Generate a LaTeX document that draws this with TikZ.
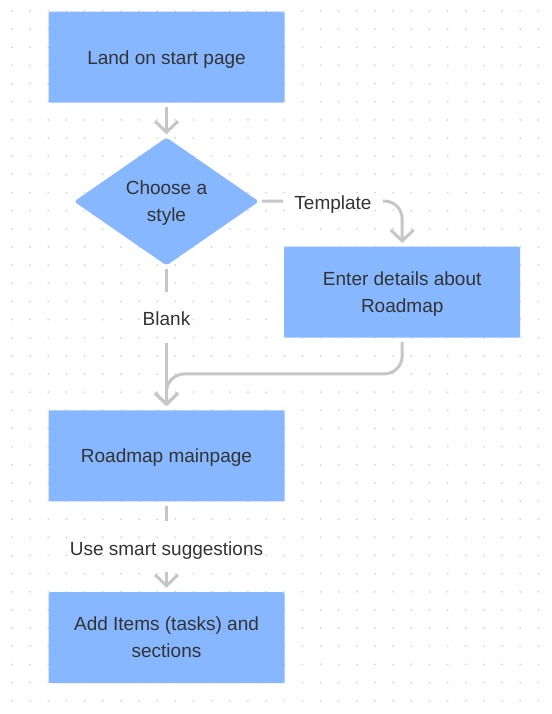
\documentclass[tikz,border=0pt]{standalone}
\usepackage{fontspec}
\setmainfont{Liberation Sans}
\usetikzlibrary{shapes.geometric, arrows.meta}

\definecolor{boxblue}{RGB}{134,183,255}
\definecolor{linegray}{RGB}{198,198,198}
\definecolor{textgray}{RGB}{51,51,51}
\definecolor{dotgray}{RGB}{212,212,212}

\begin{document}
\begin{tikzpicture}[x=1pt, y=-1pt,
    txt/.style={text=textgray, font=\fontsize{19}{27}\selectfont},
    stepbox/.style={txt, rectangle, fill=boxblue, rounded corners=1.5pt, minimum width=236pt, minimum height=91pt, align=center, text height=13.7pt, text depth=0pt},
    choice/.style={txt, diamond, fill=boxblue, rounded corners=3pt, minimum width=185pt, minimum height=128pt, inner sep=0pt, align=center},
    twolines/.style={text height=40.7pt, text depth=0pt},
    edgelabel/.style={txt, inner xsep=11pt, inner ysep=17pt, text height=17pt, text depth=0pt},
    link/.style={draw=linegray, line width=3pt},
    flowarrow/.style={link, -{Straight Barb[length=11pt, width=23pt]}}
]
    \useasboundingbox (0,0) rectangle (551,714);

    % Dotted background
    \foreach \i in {0,...,29}
        \foreach \j in {0,...,38}
            \fill[dotgray] (12+\i*18.15, 11+\j*18.15) circle (1pt);

    % Steps
    \node[stepbox] (start) at (166.5,57.2) {Land on start page};
    \node[choice, twolines] (style) at (166.5,201.5) {Choose a\\style};
    \node[stepbox, twolines] (details) at (402.2,292.2) {Enter details about\\Roadmap};
    \node[stepbox] (mainpage) at (166.5,455.9) {Roadmap mainpage};
    \node[stepbox, twolines] (items) at (166.5,637.5) {Add Items (tasks) and\\sections};

    % Labels on the connectors
    \node[edgelabel] (tmpl) at (333,201) {Template};
    \node[edgelabel] (blank) at (166.5,317.3) {Blank};
    \node[edgelabel] (smart) at (166.5,546.5) {Use smart suggestions};

    % Arrows
    \draw[flowarrow, shorten <=4pt, shorten >=3pt] (start) -- (style);
    \draw[link, shorten <=3pt] (style) -- (tmpl);
    \draw[flowarrow, rounded corners=18pt, shorten >=3.5pt] (tmpl.east) -| (details.north);
    \draw[link, shorten <=3pt] (style) -- (blank);
    \draw[flowarrow, shorten >=4pt] (blank) -- (mainpage);
    \draw[flowarrow, rounded corners=18pt, shorten <=4pt, shorten >=4pt] (details.south) -- ++(0,36) -| (mainpage.north);
    \draw[link, shorten <=4pt] (mainpage) -- (smart);
    \draw[flowarrow, shorten >=4pt] (smart) -- (items);

\end{tikzpicture}
\end{document}
